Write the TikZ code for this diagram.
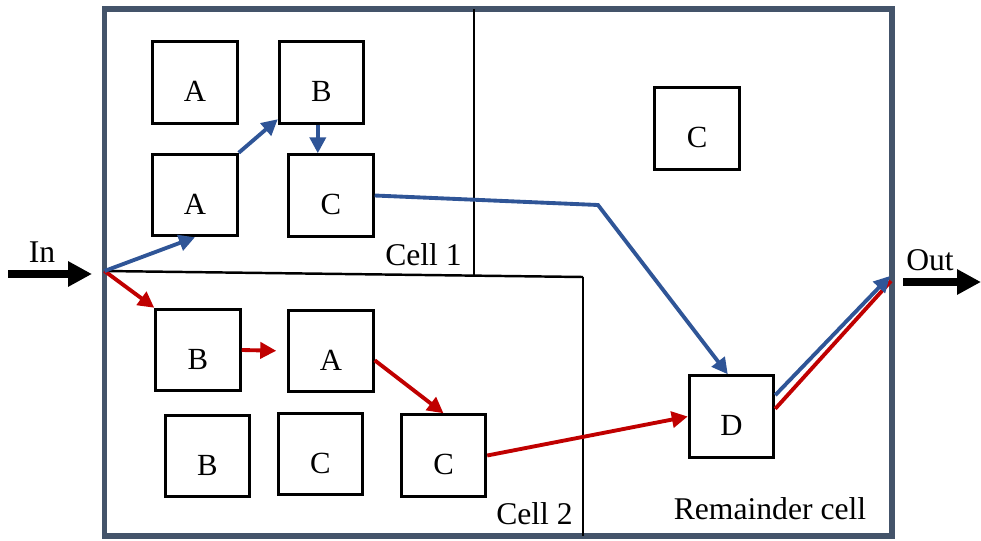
\documentclass[tikz,border=0pt]{standalone}
\usepackage{fontspec}
\setmainfont{Liberation Serif}
\usetikzlibrary{arrows.meta}

\definecolor{framegray}{HTML}{44546A}
\definecolor{flowblue}{HTML}{2F5597}
\definecolor{flowred}{HTML}{C00000}

\begin{document}
\begin{tikzpicture}[x=0.02cm, y=-0.02cm,
	box/.style={shape=rectangle, draw=black, line width=1.7pt, minimum width=1.69cm, minimum height=1.63cm, text height=0.77cm, text depth=0cm, font=\fontsize{17.5}{20}\selectfont},
	lbl/.style={anchor=base, inner sep=0pt, font=\fontsize{18}{21}\selectfont},
	divider/.style={draw=black, line width=1.4pt},
	blueflow/.style={draw=flowblue, line width=2.2pt, -{Triangle[length=0.32cm, width=0.32cm]}},
	redflow/.style={draw=flowred, line width=2.2pt, -{Triangle[length=0.32cm, width=0.32cm]}},
	io/.style={draw=black, line width=4.6pt, -{Triangle[length=0.48cm, width=0.48cm]}}]
	\useasboundingbox (0,0) rectangle (981,541);

	% outer cell and the cell borders
	\draw[draw=framegray, line width=3.4pt] (104.5,9) rectangle (892,536);
	\coordinate (entry) at (104.5, 271);
	\coordinate (split) at (583, 277);
	\coordinate (top1)  at (474, 9);
	\coordinate (mid1)  at (474, 275.6);
	\coordinate (bot2)  at (583, 536);
	\path[divider] (entry) -- (split);
	\path[divider] (top1) -- (mid1);
	\path[divider] (split) -- (bot2);

	\node[box] (a1) at (195, 82.5)   {A};
	\node[box] (b1) at (321.5, 82.5) {B};
	\node[box] (a2) at (195, 195)    {A};
	\node[box] (c1) at (331, 195.5)  {C};
	\node[box] (c3) at (697, 128.5)  {C};
	\node[box] (b2) at (198, 350)    {B};
	\node[box] (a3) at (331, 351)    {A};
	\node[box] (b3) at (207.5, 456)  {B};
	\node[box] (c2) at (320.5, 454)  {C};
	\node[box] (c4) at (443.5, 455.5){C};
	\node[box] (d)  at (731.5, 416.5){D};

	\node[lbl] (cell1) at (423.5, 265) {Cell 1};
	\node[lbl] (cell2) at (534.5, 524) {Cell 2};
	\node[lbl] (rest)  at (770, 519)   {Remainder cell};
	\node[lbl] (inlbl) at (42, 262)    {In};
	\node[lbl] (outlbl) at (930, 270)  {Out};

	\coordinate (instart)  at (8, 274);
	\coordinate (inend)    at (92, 274);
	\coordinate (outstart) at (903, 282);
	\coordinate (outend)   at (981, 282);
	\coordinate (bend)     at (598, 205);
	\coordinate (exitb)    at (890, 276);
	\coordinate (exitr)    at (891, 281);

	\path[io] (instart) -- (inend);
	\path[io] (outstart) -- (outend);

	% second route
	\path[redflow] (entry) -- (b2.north west);
	\path[redflow, shorten >=0.22cm] (b2.east) -- (a3.west);
	\path[redflow] (a3.-12) -- (c4.north);
	\path[redflow] (c4.east) -- (d.west);
	\path[redflow, -] (d.10) -- (exitr);

	% first route
	\path[blueflow] (entry) -- (a2.south);
	\path[blueflow] (a2.north east) -- (b1.220);
	\path[blueflow] (b1.265) -- (b1.265 |- c1.north);
	\path[blueflow] (c1.east) -- (bend) -- (d.95);
	\path[blueflow] (d.26) -- (exitb);
\end{tikzpicture}
\end{document}
